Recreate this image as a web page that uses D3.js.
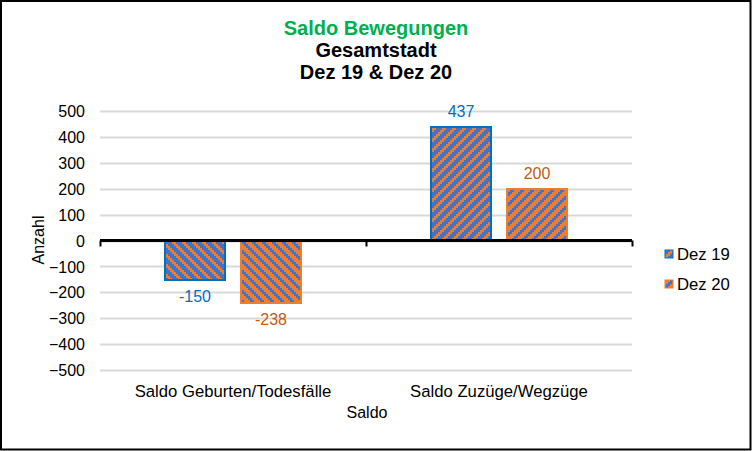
<!DOCTYPE html>
<html><head><meta charset="utf-8">
<script src="https://cdn.jsdelivr.net/npm/d3@7"></script>
<style>body{margin:0;background:#fff}svg{display:block;font-family:"Liberation Sans",Arial,sans-serif}</style>
</head><body><svg id="c" width="752" height="451"></svg>
<script>
const categories = ["Saldo Geburten/Todesfälle", "Saldo Zuzüge/Wegzüge"];
const seriesNames = ["Dez 19", "Dez 20"];
const dez19 = [-150, 437];
const dez20 = [-238, 200];
const yTicks = [-500,-400,-300,-200,-100,0,100,200,300,400,500];

const svg = d3.select("#c");
const W = 752, H = 451;
const plot = {l:100, r:632, t:111, b:370};
const fills = ["#4472C4", "#ED7D31"];
const strokes = ["#0070C0", "#ED7D31"];
const labelCol = ["#0070C0", "#C55A11"];
const FS = 16;

const defs = svg.append("defs");
function mkPattern(id, bg, fg, dir){
  const n = 5, c = 2, s = n*c;
  const p = defs.append("pattern").attr("id", id).attr("patternUnits","userSpaceOnUse")
    .attr("width", s).attr("height", s);
  p.append("rect").attr("width",s).attr("height",s).attr("fill",bg);
  const cells = [];
  for (let yy=0; yy<n; yy++) for (let xx=0; xx<n; xx++) {
    const k = dir>0 ? ((xx+yy)%n) : (((xx-yy)%n)+n)%n;
    if (k < 2) cells.push([xx,yy]);
  }
  p.selectAll("rect.c").data(cells).join("rect").attr("class","c")
    .attr("x",d=>d[0]*c).attr("y",d=>d[1]*c).attr("width",c).attr("height",c)
    .attr("fill",fg).attr("shape-rendering","crispEdges");
}
mkPattern("p0pos", fills[0], fills[1], 1);
mkPattern("p0neg", fills[0], fills[1], -1);
mkPattern("p1pos", fills[1], fills[0], 1);
mkPattern("p1neg", fills[1], fills[0], -1);

svg.append("rect").attr("x",1).attr("y",1).attr("width",W-2.5).attr("height",H-2.5)
  .attr("fill","#fff").attr("stroke","#000").attr("stroke-width",2);

const y = d3.scaleLinear().domain([-500,500]).range([plot.b, plot.t]);
const x0 = d3.scaleBand().domain(categories).range([plot.l, plot.r]).paddingInner(0).paddingOuter(0);
const x1 = d3.scaleBand().domain(seriesNames).range([65, 201]).paddingInner(16/76);

// gridlines
svg.append("g").selectAll("line").data(yTicks).join("line")
  .attr("x1", plot.l).attr("x2", plot.r).attr("y1", d=>Math.round(y(d))+0.5).attr("y2", d=>Math.round(y(d))+0.5)
  .attr("stroke","#d9d9d9").attr("stroke-width",2);

// y axis labels
const yAxis = d3.axisLeft(y).tickValues(yTicks).tickSize(0).tickPadding(0);
const gy = svg.append("g").attr("transform","translate(85,0)").call(yAxis);
gy.select(".domain").remove();
gy.selectAll("text").attr("font-size",FS).attr("fill","#000").attr("font-family","Liberation Sans, Arial, sans-serif").attr("dy","0.35em");

const series = [dez19, dez20];
series.forEach((vals, si) => {
  svg.append("g").selectAll("rect").data(vals).join("rect")
    .attr("x", (d,i)=> Math.round(x0(categories[i]) + x1(seriesNames[si])))
    .attr("width", Math.round(x1.bandwidth()))
    .attr("y", d=> Math.round(y(Math.max(0,d))))
    .attr("height", d=> Math.round(Math.abs(y(d)-y(0))))
    .attr("fill", d=> `url(#p${si}${d>=0?"pos":"neg"})`)
    .attr("stroke", strokes[si]).attr("stroke-width", 2);
  svg.append("g").selectAll("text").data(vals).join("text")
    .attr("x", (d,i)=> x0(categories[i]) + x1(seriesNames[si]) + x1.bandwidth()/2)
    .attr("y", d=> d>=0 ? y(d)-10 : y(d)+23)
    .attr("text-anchor","middle").attr("font-size",FS).attr("fill", labelCol[si])
    .text(d=>d);
});

// category axis at zero
svg.append("line").attr("x1",plot.l).attr("x2",plot.r).attr("y1",y(0)).attr("y2",y(0)).attr("stroke","#000").attr("stroke-width",3);
const tickXs = [plot.l, x0(categories[1]), plot.r];
svg.append("g").selectAll("line").data(tickXs).join("line")
  .attr("x1",d=>d+0.5).attr("x2",d=>d+0.5).attr("y1",y(0)).attr("y2",y(0)+6).attr("stroke","#000").attr("stroke-width",2);

// category labels
svg.append("g").selectAll("text").data(categories).join("text")
  .attr("x", d=> x0(d)+x0.bandwidth()/2).attr("y", 397).attr("text-anchor","middle")
  .attr("font-size",16.7).attr("fill","#000").text(d=>d);

// axis titles
svg.append("text").attr("x", 367).attr("y", 418).attr("text-anchor","middle").attr("font-size",FS).text("Saldo");
svg.append("text").attr("transform","translate(44,240) rotate(-90)").attr("text-anchor","middle").attr("font-size",FS).text("Anzahl");

// titles
const TF = 20;
svg.append("text").attr("x",376).attr("y",35).attr("text-anchor","middle").attr("font-size",TF).attr("font-weight","bold").attr("fill","#00B050").text("Saldo Bewegungen");
svg.append("text").attr("x",376).attr("y",57).attr("text-anchor","middle").attr("font-size",TF).attr("font-weight","bold").attr("fill","#000").text("Gesamtstadt");
svg.append("text").attr("x",376).attr("y",79).attr("text-anchor","middle").attr("font-size",TF).attr("font-weight","bold").attr("fill","#000").text("Dez 19 & Dez 20");

// legend
seriesNames.forEach((n, i) => {
  const ly = 254 + i*30;
  svg.append("rect").attr("x",665).attr("y",ly-4).attr("width",8).attr("height",8)
    .attr("fill", `url(#p${i}pos)`).attr("stroke", strokes[i]).attr("stroke-width",1);
  svg.append("text").attr("x",677).attr("y",ly).attr("dy","0.35em").attr("font-size",16.7).text(n);
});
</script></body></html>
